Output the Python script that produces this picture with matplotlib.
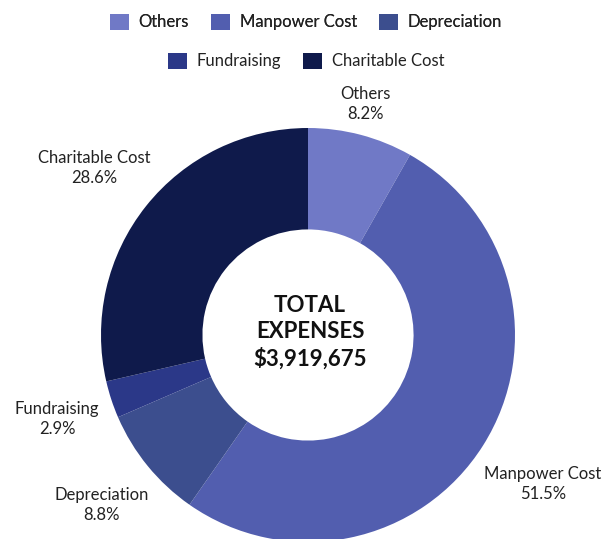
import matplotlib
matplotlib.use("Agg")
import matplotlib.pyplot as plt
from matplotlib.patches import Patch

plt.rcParams['font.family'] = ['Lato', 'DejaVu Sans']

categories = ["Others", "Manpower Cost", "Depreciation", "Fundraising", "Charitable Cost"]
values = [8.2, 51.5, 8.8, 2.9, 28.6]
colors = ["#7079C6", "#525EAF", "#3C4E8E", "#2B3888", "#0F1A4B"]
total_label = "TOTAL\nEXPENSES\n$3,919,675"

fig = plt.figure(figsize=(6.13, 5.39), dpi=100)
ax = fig.add_axes([0, 0, 1, 1])

cx, cy, R = 308, 539 - 335, 207
wedges, _ = ax.pie(values, colors=colors, startangle=90, counterclock=False,
                   center=(cx, cy), radius=R,
                   wedgeprops=dict(width=R * 0.49, edgecolor='none'))
ax.set_xlim(0, 613)
ax.set_ylim(0, 539)
ax.set_aspect('equal')
ax.axis('off')

label_pos = [(365, 104), (543, 484), (102, 505), (57, 419), (94, 168)]
for name, v, (lx, ly) in zip(categories, values, label_pos):
    ax.text(lx, 539 - ly, f"{name}\n{v}%", ha='center', va='center',
            fontsize=12, color='#222222', linespacing=1.35)

ax.text(cx + 2, 539 - 332, total_label, ha='center', va='center', fontsize=16,
        fontweight='bold', color='#111111', linespacing=1.3)

handles = [Patch(facecolor=c, edgecolor='none', label=n) for n, c in zip(categories, colors)]
common = dict(frameon=False, fontsize=12, handlelength=1.15, handleheight=1.15,
              handletextpad=0.55, columnspacing=1.35, labelcolor='#222222')
leg1 = fig.legend(handles=handles[:3], ncol=3, loc='center', bbox_to_anchor=(306 / 613, 1 - 22 / 539), **common)
fig.add_artist(leg1)
leg2 = fig.legend(handles=handles[3:], ncol=2, loc='center', bbox_to_anchor=(306 / 613, 1 - 61 / 539), **common)

fig.savefig("out.png", dpi=100)
